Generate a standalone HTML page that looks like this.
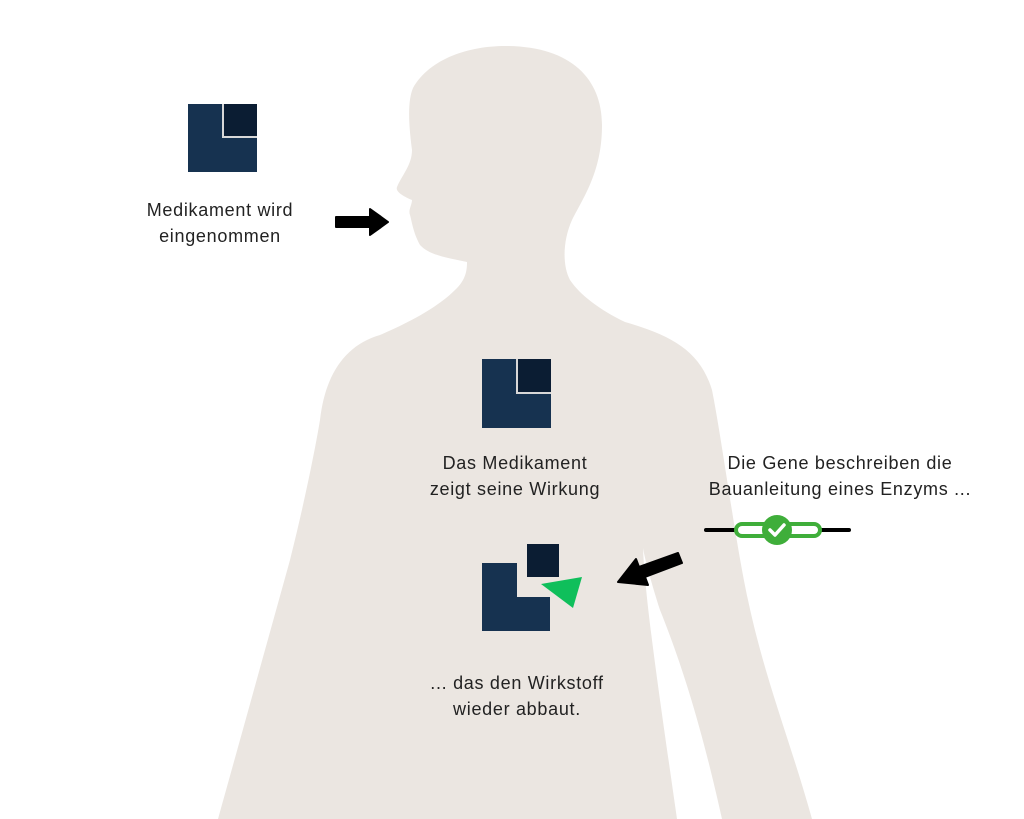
<!DOCTYPE html>
<html><head><meta charset="utf-8"><style>
html,body{margin:0;padding:0;background:#fff;}
body{width:1024px;height:819px;position:relative;overflow:hidden;font-family:"Liberation Sans",sans-serif;}
.t{position:absolute;font-size:18px;letter-spacing:0.7px;color:#222;text-align:center;line-height:26px;white-space:nowrap;transform:translateX(-50%);}
</style></head><body>
<svg width="1024" height="819" style="position:absolute;left:0;top:0">
<path fill="#ebe6e1" d="M505,46 C570,46 602,78 602,125 C602,170 585,195 572,220 C563,240 562,265 570,280 C580,295 600,310 625,322 C670,335 700,350 712,390 C722,440 735,540 748,600 C765,680 790,740 812,819 L722,819 C700,720 680,660 660,610 C652,585 645,560 643,548 C645,600 660,700 677,819 L218,819 C240,740 265,650 290,560 C305,500 315,450 320,420 C325,375 345,345 380,335 C415,320 440,305 455,290 C466,280 467,270 467,262 C450,258 430,256 420,245 C413,232 412,222 410,215 C408,210 412,205 412,200 C405,197 395,192 397,187 C402,175 412,165 412,150 C408,120 408,100 413,88 C430,58 470,46 505,46 Z"/>
<rect x="188" y="104" width="69" height="68" fill="#163250"/>
<rect x="222" y="104" width="35" height="34" fill="#d8d8d8"/>
<rect x="224" y="104" width="33" height="32" fill="#0b1d33"/>
<rect x="482" y="359" width="69" height="69" fill="#163250"/>
<rect x="516" y="359" width="35" height="35" fill="#d8d8d8"/>
<rect x="518" y="359" width="33" height="33" fill="#0b1d33"/>
<path fill="#163250" d="M482,563 L517,563 L517,597 L550,597 L550,631 L482,631 Z"/>
<rect x="527" y="544" width="32" height="33" fill="#0b1d33"/>
<polygon points="541,584 582,577 573,608" fill="#0fbf5b"/>
<g fill="#000"><path d="M336,217 L370,217 L370,209 L388,222 L370,235 L370,227 L336,227 Z" stroke="#000" stroke-width="2" stroke-linejoin="round"/>
<path d="M678,553 L682,563 L645,577 L648,585 L618,582 L636,559 L639,567 Z" stroke="#000" stroke-width="2" stroke-linejoin="round"/></g>
<line x1="706" y1="530" x2="849" y2="530" stroke="#000" stroke-width="4" stroke-linecap="round"/>
<rect x="736" y="524" width="84" height="12" rx="6" fill="#fff" stroke="#3fae3a" stroke-width="4"/>
<circle cx="777" cy="530" r="15" fill="#3fae3a"/>
<path d="M770,530 L775,535 L784,525" fill="none" stroke="#fff" stroke-width="3.5" stroke-linecap="round" stroke-linejoin="round"/>
</svg>
<div class="t" style="left:220px;top:197px">Medikament wird<br>eingenommen</div>
<div class="t" style="left:515px;top:450px">Das Medikament<br>zeigt seine Wirkung</div>
<div class="t" style="left:840px;top:450px">Die Gene beschreiben die<br>Bauanleitung eines Enzyms ...</div>
<div class="t" style="left:517px;top:670px">... das den Wirkstoff<br>wieder abbaut.</div>
</body></html>
